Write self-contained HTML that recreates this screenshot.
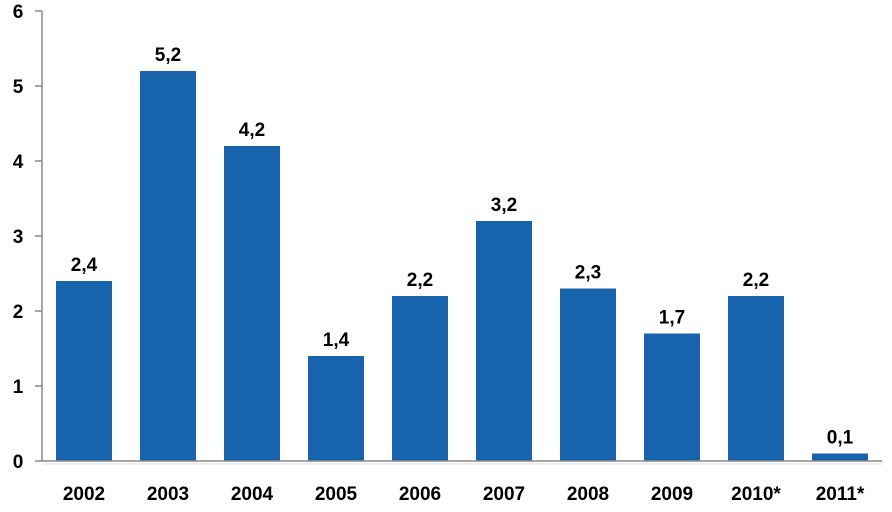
<!DOCTYPE html>
<html><head><meta charset="utf-8"><style>
body{margin:0;background:#fff;}
text{font-family:"Liberation Sans",sans-serif;font-weight:bold;fill:#000;}
</style></head><body>
<svg id="chart" width="892" height="507" xmlns="http://www.w3.org/2000/svg"></svg>
<script>
const categories=["2002","2003","2004","2005","2006","2007","2008","2009","2010*","2011*"];
const values=[2.4,5.2,4.2,1.4,2.2,3.2,2.3,1.7,2.2,0.1];
const valueLabels=["2,4","5,2","4,2","1,4","2,2","3,2","2,3","1,7","2,2","0,1"];
const yTicks=[0,1,2,3,4,5,6];
const svg=document.getElementById('chart');
const NS='http://www.w3.org/2000/svg';
const x0=42,x1=882,y0=461,y1=11,ymax=6;
const bw=(x1-x0)/categories.length;
const y=v=>y0-(v/ymax)*(y0-y1);
const xc=i=>x0+bw*(i+0.5);
function mk(t,a){const e=document.createElementNS(NS,t);for(const k in a)e.setAttribute(k,a[k]);svg.appendChild(e);return e;}
yTicks.forEach(t=>{
 const l=mk('line',{x1:x0-7,x2:x0,y1:y(t),y2:y(t),stroke:'#888','stroke-width':1.5});
 
 
 const tx=mk('text',{x:x0-24,y:y(t)+7,'text-anchor':'middle','font-size':19});
 tx.textContent=t;
 
 
});
categories.forEach((c,i)=>{
 const r=mk('rect',{x:xc(i)-28,y:y(values[i]),width:56,height:y0-y(values[i]),fill:'#1764ad'});
 
 
 const v=mk('text',{x:xc(i),y:y(values[i])-10,'text-anchor':'middle','font-size':19});
 v.textContent=valueLabels[i];
 
 
 const cl=mk('text',{x:xc(i),y:500,'text-anchor':'middle','font-size':19});
 cl.textContent=c;
 
 
});
const ax=mk('line',{x1:x0,x2:x0,y1:y1,y2:y0,stroke:'#888','stroke-width':1.5});


const bx=mk('line',{x1:x0,x2:x1,y1:y0,y2:y0,stroke:'#888','stroke-width':1.5});


const bx2=mk('line',{x1:x0,x2:x1,y1:y0+3,y2:y0+3,stroke:'#ddd','stroke-width':1});


</script>
</body></html>
